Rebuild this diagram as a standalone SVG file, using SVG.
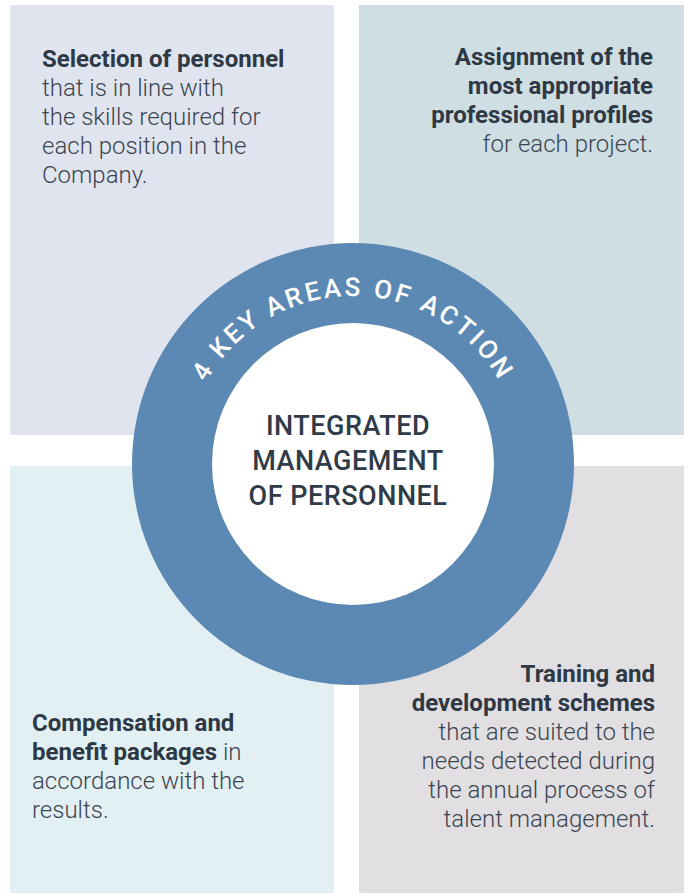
<svg xmlns="http://www.w3.org/2000/svg" width="689" height="894" viewBox="0 0 689 894">
<style>
.t{font-family:Roboto,"Liberation Sans",sans-serif;font-size:24px;fill:#3b4551;font-weight:300}
.b{font-weight:700;fill:#2e3945}
.r{text-anchor:end}
.c{font-family:Roboto,"Liberation Sans",sans-serif;font-size:27px;font-weight:500;fill:#2f3b47;text-anchor:middle;letter-spacing:0.5px}
.arc{font-family:Roboto,"Liberation Sans",sans-serif;font-size:26px;font-weight:500;fill:#ffffff;letter-spacing:3px}
</style>
<defs>
<path id="ringPath" d="M 185 464 A 168 168 0 0 1 521 464"/>
</defs>
<rect width="689" height="894" fill="#ffffff"/>
<g id="q1">
<rect x="10" y="5" width="324" height="430" fill="#e0e4ef"/>
<text class="t" x="42"><tspan class="b" y="67">Selection of personnel</tspan><tspan x="42" y="96">that is in line with</tspan><tspan x="42" y="125">the skills required for</tspan><tspan x="42" y="154">each position in the</tspan><tspan x="42" y="183">Company.</tspan></text>
</g>
<g id="q2">
<rect x="359" y="5" width="325" height="430" fill="#cfdee3"/>
<text class="t r"><tspan class="b" x="653" y="65">Assignment of the</tspan><tspan class="b" x="653" y="94">most appropriate</tspan><tspan class="b" x="653" y="123">professional profiles</tspan><tspan x="653" y="152">for each project.</tspan></text>
</g>
<g id="q3">
<rect x="10" y="466" width="324" height="427" fill="#e2f0f4"/>
<text class="t"><tspan class="b" x="32" y="731">Compensation and</tspan><tspan class="b" x="32" y="760">benefit packages</tspan><tspan> in</tspan><tspan x="32" y="789">accordance with the</tspan><tspan x="32" y="818">results.</tspan></text>
</g>
<g id="q4">
<rect x="359" y="466" width="325" height="427" fill="#e1dfe1"/>
<text class="t r"><tspan class="b" x="655" y="682">Training and</tspan><tspan class="b" x="655" y="711">development schemes</tspan><tspan x="655" y="740">that are suited to the</tspan><tspan x="655" y="769">needs detected during</tspan><tspan x="655" y="798">the annual process of</tspan><tspan x="655" y="827">talent management.</tspan></text>
</g>
<g id="ring">
<circle cx="353" cy="464" r="221" fill="#5c89b4"/>
<circle cx="353" cy="464" r="141" fill="#ffffff"/>
<text class="arc"><textPath href="#ringPath" startOffset="50%" text-anchor="middle">4 KEY AREAS OF ACTION</textPath></text>
</g>
<g id="center">
<text class="c"><tspan x="348" y="435">INTEGRATED</tspan><tspan x="348" y="470">MANAGEMENT</tspan><tspan x="348" y="505">OF PERSONNEL</tspan></text>
</g>
</svg>
